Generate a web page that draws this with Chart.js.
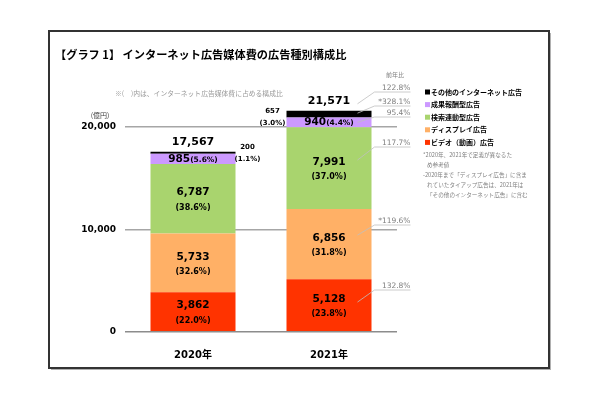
<!DOCTYPE html>
<html>
<head>
<meta charset="utf-8">
<script src="https://cdn.jsdelivr.net/npm/chart.js@4"></script>
<style>
  body { margin: 0; background: #fff; }
  canvas { display: block; }
</style>
</head>
<body>
<canvas id="adChart" width="600" height="399"></canvas>
<script>
// data
const categories = ["2020年", "2021年"];
const seriesNames = ["ビデオ（動画）広告", "ディスプレイ広告", "検索連動型広告", "成果報酬型広告", "その他のインターネット広告"];
const videoValues = [3862, 5128];
const displayValues = [5733, 6856];
const searchValues = [6787, 7991];
const performanceValues = [985, 940];
const otherValues = [200, 657];
const videoShares = [22.0, 23.8];
const displayShares = [32.6, 31.8];
const searchShares = [38.6, 37.0];
const performanceShares = [5.6, 4.4];
const otherShares = [1.1, 3.0];
const totals = [17567, 21571];
const yoyLabels = ["132.8%", "*119.6%", "117.7%", "95.4%", "*328.1%"]; // 2021 vs 2020, per series
const yoyTotalLabel = "122.8%";
const yTicks = [0, 10000, 20000];
const seriesColors = ["#FF3300", "#FFB066", "#A9D46E", "#CC99FF", "#000000"];

const allValues = [videoValues, displayValues, searchValues, performanceValues, otherValues];
const allShares = [videoShares, displayShares, searchShares, performanceShares, otherShares];

const JP = '"Noto Sans CJK JP", sans-serif';
const NUM = '"DejaVu Sans", "Noto Sans CJK JP", sans-serif';

function fmt(n) { return n.toLocaleString("en-US"); }

const framePlugin = {
    id: "frame",
    beforeDraw(chart) {
        const ctx = chart.ctx;
        ctx.save();
        ctx.fillStyle = "#fff";
        ctx.fillRect(0, 0, chart.width, chart.height);
        ctx.fillStyle = "#b0b0b0";
        ctx.fillRect(51, 368, 500, 2);
        ctx.fillRect(549, 33, 2, 337);
        ctx.strokeStyle = "#333";
        ctx.lineWidth = 2;
        ctx.strokeRect(49, 31, 500, 337);

        ctx.fillStyle = "#000";
        ctx.textBaseline = "middle";
        ctx.font = "bold 11.2px " + JP;
        ctx.fillText("【グラフ 1】 インターネット広告媒体費の広告種別構成比", 55, 55);

        ctx.fillStyle = "#9a9a9a";
        ctx.font = "6.8px " + JP;
        ctx.fillText("※(　)内は、インターネット広告媒体費に占める構成比", 115, 93);

        ctx.fillStyle = "#404040";
        ctx.font = "7px " + JP;
        ctx.textAlign = "center";
        ctx.fillText("(億円)", 100, 115);
        ctx.restore();
    }
};

const labelPlugin = {
    id: "segmentLabels",
    afterDatasetsDraw(chart) {
        const ctx = chart.ctx;
        ctx.save();
        ctx.textAlign = "center";
        ctx.textBaseline = "middle";
        ctx.fillStyle = "#000";

        chart.data.datasets.forEach((ds, i) => {
            const meta = chart.getDatasetMeta(i);
            meta.data.forEach((bar, j) => {
                const mid = (bar.y + bar.base) / 2;
                const val = allValues[i][j];
                const pct = "(" + allShares[i][j].toFixed(1) + "%)";
                if (i < 3) {
                    ctx.font = "bold 10.5px " + NUM;
                    ctx.fillText(fmt(val), bar.x, mid - 6);
                    ctx.font = "bold 8px " + NUM;
                    ctx.fillText(pct, bar.x, mid + 9);
                } else if (i === 3) {
                    ctx.font = "bold 10.5px " + NUM;
                    const w1 = ctx.measureText(fmt(val)).width;
                    ctx.font = "bold 7.5px " + NUM;
                    const w2 = ctx.measureText(pct).width;
                    const x0 = bar.x - (w1 + w2) / 2;
                    ctx.textAlign = "left";
                    ctx.font = "bold 10.5px " + NUM;
                    ctx.fillText(fmt(val), x0, mid);
                    ctx.font = "bold 7.5px " + NUM;
                    ctx.fillText(pct, x0 + w1, mid + 1);
                    ctx.textAlign = "center";
                } else {
                    const half = bar.width / 2;
                    const cx = j === 0 ? bar.x + half + 12 : bar.x - half - 14;
                    ctx.font = "bold 7px " + NUM;
                    ctx.fillText(fmt(val), cx, mid - (j === 0 ? 6 : 3));
                    ctx.fillText(pct, cx, mid + (j === 0 ? 6 : 9));
                    // total on top
                    ctx.font = "bold 11px " + NUM;
                    ctx.fillText(fmt(totals[j]), bar.x, bar.y - 10);
                }
            });
        });

        // year-on-year leaders (2021 bar)
        const top21 = chart.getDatasetMeta(4).data[1];
        const right = top21.x + top21.width / 2;
        const sx = right - 14;
        const ex = right + 3;
        const tx = right + 39;
        const leaders = [{ text: yoyTotalLabel, from: top21.y - 7, to: 92 }];
        const ly = [290, 225, 147, 117, 106];
        const dy = [-3, -9, -8, 0, -1];
        for (let i = 4; i >= 0; i--) {
            const b = chart.getDatasetMeta(i).data[1];
            leaders.push({ text: yoyLabels[i], from: (b.y + b.base) / 2 + dy[i], to: ly[i] });
        }
        ctx.strokeStyle = "#bfbfbf";
        ctx.lineWidth = 0.8;
        ctx.fillStyle = "#7f7f7f";
        ctx.font = "7.5px " + NUM;
        ctx.textAlign = "right";
        ctx.textBaseline = "bottom";
        leaders.forEach(l => {
            ctx.beginPath();
            ctx.moveTo(sx, l.from);
            ctx.lineTo(ex, l.to);
            ctx.lineTo(tx, l.to);
            ctx.stroke();
            ctx.fillText(l.text, tx, l.to - 0.5);
        });
        ctx.font = "6px " + JP;
        ctx.textAlign = "center";
        ctx.textBaseline = "middle";
        ctx.fillText("前年比", 395, 75);
        ctx.restore();
    }
};

const legendPlugin = {
    id: "sideLegend",
    afterDraw(chart) {
        const ctx = chart.ctx;
        ctx.save();
        ctx.textBaseline = "middle";
        const n = chart.data.datasets.length;
        for (let k = 0; k < n; k++) {
            const ds = chart.data.datasets[n - 1 - k];
            const cy = 92 + k * 12.6;
            ctx.fillStyle = ds.backgroundColor;
            ctx.fillRect(425, cy - 2.5, 5, 5);
            ctx.fillStyle = "#000";
            ctx.font = "bold 7px " + JP;
            ctx.fillText(ds.label, 431, cy);
        }
        const notes = [
            ["*2020年、2021年で定義が異なるた", 423],
            ["め参考値", 427],
            ["-2020年まで「ディスプレイ広告」に含ま", 423],
            ["れていたタイアップ広告は、2021年は", 427],
            ["「その他のインターネット広告」に含む", 427]
        ];
        ctx.fillStyle = "#808080";
        ctx.font = "5.6px " + JP;
        notes.forEach((nt, k) => ctx.fillText(nt[0], nt[1], 155 + k * 10));
        ctx.restore();
    }
};

const ctx = document.getElementById("adChart").getContext("2d");
new Chart(ctx, {
    type: "bar",
    data: {
        labels: categories,
        datasets: seriesNames.map((name, i) => ({
            label: name,
            data: allValues[i],
            backgroundColor: seriesColors[i],
            borderWidth: 0,
            barPercentage: 0.625,
            categoryPercentage: 1
        }))
    },
    options: {
        responsive: false,
        animation: false,
        devicePixelRatio: 1,
        layout: { padding: { left: 48, right: 203, top: 106.4, bottom: 0 } },
        plugins: { legend: { display: false }, tooltip: { enabled: false } },
        scales: {
            x: {
                stacked: true,
                grid: { display: false },
                border: { display: false },
                ticks: { color: "#000", padding: 10, font: { family: NUM, size: 10, weight: "bold" } },
                afterFit: s => { s.height = 67.3; }
            },
            y: {
                stacked: true,
                min: 0,
                max: 22000,
                afterBuildTicks: s => { s.ticks = yTicks.map(v => ({ value: v })); },
                grid: {
                    drawTicks: false,
                    color: c => c.tick && c.tick.value === 0 ? "#8c8c8c" : "#a6a6a6",
                    lineWidth: 1.5
                },
                border: { display: false },
                ticks: {
                    color: "#000",
                    padding: 9,
                    font: { family: NUM, size: 9, weight: "bold" },
                    callback: v => fmt(v)
                },
                afterFit: s => { s.width = 77; }
            }
        }
    },
    plugins: [framePlugin, labelPlugin, legendPlugin]
});
</script>
</body>
</html>
